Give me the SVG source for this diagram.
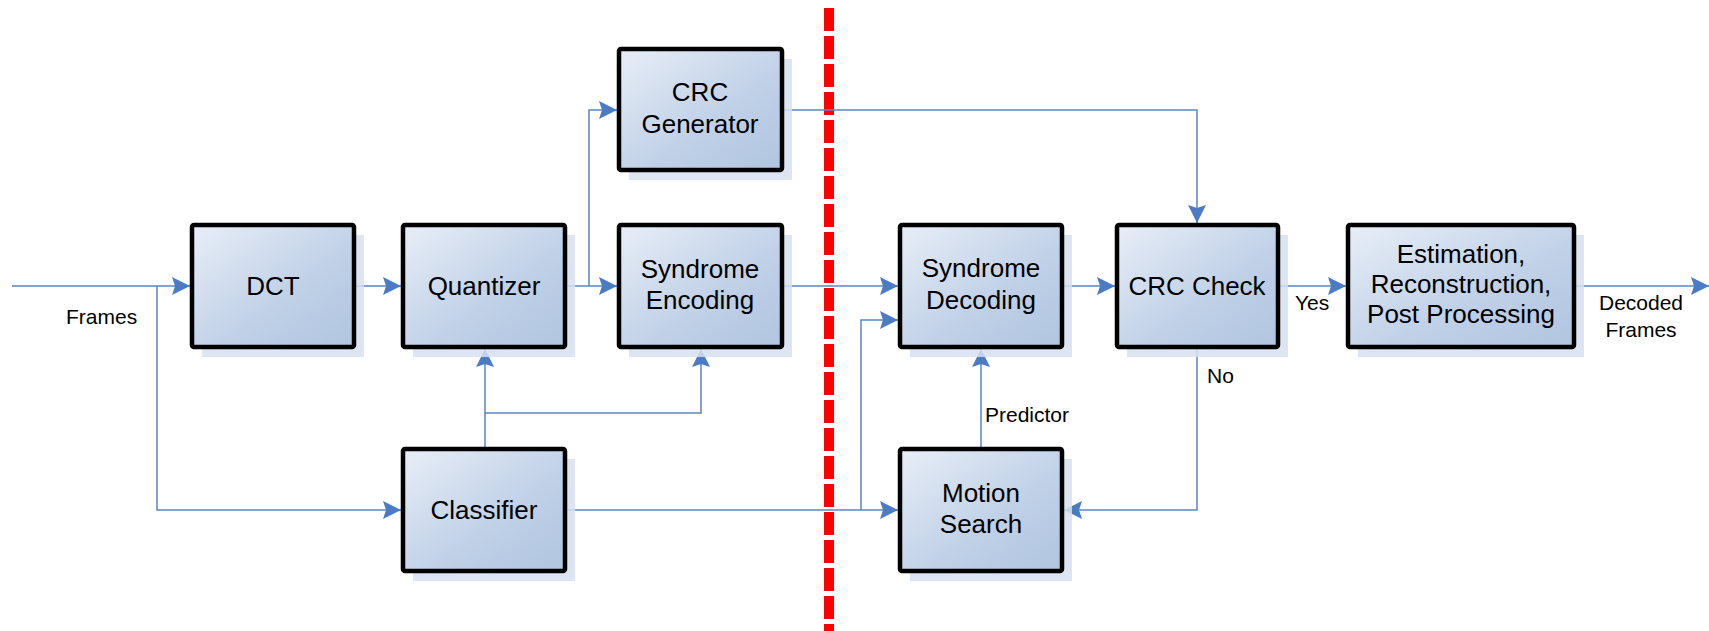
<svg xmlns="http://www.w3.org/2000/svg" width="1709" height="631" viewBox="0 0 1709 631">
<style>
.box{fill:url(#g);stroke:#000;stroke-width:4.5;}
.sh{fill:#d6e0ee;opacity:0.85;}
.t{font-family:"Liberation Sans",Arial,sans-serif;font-size:26px;fill:#000;text-anchor:middle;}
.s{font-family:"Liberation Sans",Arial,sans-serif;font-size:21px;fill:#000;}
.c{fill:none;stroke:#5a86c5;stroke-width:1.5;}
</style>
<defs>
<linearGradient id="g" x1="0" y1="0" x2="1" y2="1">
<stop offset="0" stop-color="#e8eef7"/>
<stop offset="0.6" stop-color="#bfd0e7"/>
<stop offset="1" stop-color="#b1c5e0"/>
</linearGradient>
<marker id="a" viewBox="0 0 18 18" refX="18" refY="9" markerWidth="18" markerHeight="18" markerUnits="userSpaceOnUse" orient="auto">
<path d="M0,0 L18,9 L0,18 L3,9 Z" fill="#4a7bc4"/>
</marker>
</defs>
<rect width="1709" height="631" fill="#fff"/>

<g id="divider">
<line x1="829" y1="8" x2="829" y2="631" stroke="#ff0000" stroke-width="10" stroke-dasharray="23 5"/>
</g>

<g id="connectors">
<path class="c" d="M12,286 H190" marker-end="url(#a)"/>
<path class="c" d="M157,286 V510 H401" marker-end="url(#a)"/>
<path class="c" d="M354,286 H401" marker-end="url(#a)"/>
<path class="c" d="M565,286 H617" marker-end="url(#a)"/>
<path class="c" d="M589,286 V110 H617" marker-end="url(#a)"/>
<path class="c" d="M485,449 V349" marker-end="url(#a)"/>
<path class="c" d="M485,413 H701 V349" marker-end="url(#a)"/>
<path class="c" d="M782,286 H898" marker-end="url(#a)"/>
<path class="c" d="M565,510 H898" marker-end="url(#a)"/>
<path class="c" d="M861,510 V320 H898" marker-end="url(#a)"/>
<path class="c" d="M981,449 V349" marker-end="url(#a)"/>
<path class="c" d="M782,110 H1197 V223" marker-end="url(#a)"/>
<path class="c" d="M1062,286 H1115" marker-end="url(#a)"/>
<path class="c" d="M1278,286 H1346" marker-end="url(#a)"/>
<path class="c" d="M1197,347 V510 H1064" marker-end="url(#a)"/>
<path class="c" d="M1574,286 H1709" marker-end="url(#a)"/>
<text class="s" x="66" y="324">Frames</text>
<text class="s" x="1295" y="310">Yes</text>
<text class="s" x="1207" y="383">No</text>
<text class="s" x="985" y="422">Predictor</text>
<text class="s" x="1641" y="310" text-anchor="middle">Decoded</text>
<text class="s" x="1641" y="337" text-anchor="middle">Frames</text>
</g>

<g id="dct">
<rect class="sh" x="202" y="235" width="162" height="122"/>
<rect class="box" x="192" y="225" width="162" height="122" rx="2"/>
<text class="t" x="273" y="295">DCT</text>
</g>
<g id="quantizer">
<rect class="sh" x="413" y="235" width="162" height="122"/>
<rect class="box" x="403" y="225" width="162" height="122" rx="2"/>
<text class="t" x="484" y="295">Quantizer</text>
</g>
<g id="crc-generator">
<rect class="sh" x="629" y="59" width="163" height="121"/>
<rect class="box" x="619" y="49" width="163" height="121" rx="2"/>
<text class="t" x="700" y="101">CRC</text>
<text class="t" x="700" y="133">Generator</text>
</g>
<g id="syndrome-encoding">
<rect class="sh" x="629" y="235" width="163" height="122"/>
<rect class="box" x="619" y="225" width="163" height="122" rx="2"/>
<text class="t" x="700" y="278">Syndrome</text>
<text class="t" x="700" y="309">Encoding</text>
</g>
<g id="classifier">
<rect class="sh" x="413" y="459" width="162" height="122"/>
<rect class="box" x="403" y="449" width="162" height="122" rx="2"/>
<text class="t" x="484" y="519">Classifier</text>
</g>
<g id="syndrome-decoding">
<rect class="sh" x="910" y="235" width="162" height="122"/>
<rect class="box" x="900" y="225" width="162" height="122" rx="2"/>
<text class="t" x="981" y="277">Syndrome</text>
<text class="t" x="981" y="309">Decoding</text>
</g>
<g id="motion-search">
<rect class="sh" x="910" y="459" width="162" height="122"/>
<rect class="box" x="900" y="449" width="162" height="122" rx="2"/>
<text class="t" x="981" y="502">Motion</text>
<text class="t" x="981" y="533">Search</text>
</g>
<g id="crc-check">
<rect class="sh" x="1127" y="235" width="161" height="122"/>
<rect class="box" x="1117" y="225" width="161" height="122" rx="2"/>
<text class="t" x="1197" y="295">CRC Check</text>
</g>
<g id="estimation">
<rect class="sh" x="1358" y="235" width="226" height="122"/>
<rect class="box" x="1348" y="225" width="226" height="122" rx="2"/>
<text class="t" x="1461" y="263">Estimation,</text>
<text class="t" x="1461" y="293">Reconstruction,</text>
<text class="t" x="1461" y="323">Post Processing</text>
</g>
</svg>
